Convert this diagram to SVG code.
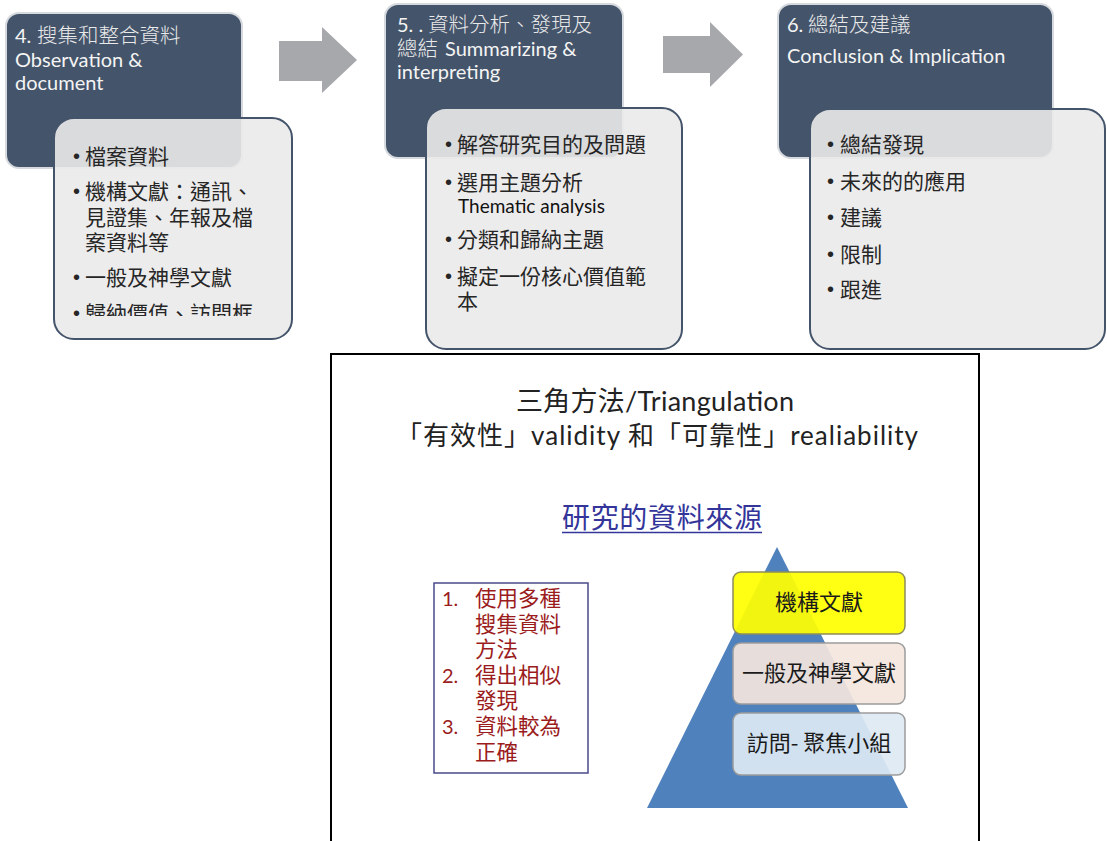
<svg xmlns="http://www.w3.org/2000/svg" width="1107" height="841" viewBox="0 0 1107 841">
<defs>
<style>
.dark{fill:#44546a;stroke:#d6dade;stroke-width:2}
.light{fill:#ebeaea;fill-opacity:0.9;stroke:#44546a;stroke-width:2}
.arrow{fill:#a6a8ac}
.ttl{font-family:Lato,"Noto Sans CJK TC",sans-serif;font-size:20px;fill:#f4f4f4}
.tcjk{font-family:"Noto Sans CJK TC",sans-serif;font-size:20.5px;font-weight:300;fill:#eaeaea}
.bul{font-family:"Noto Sans CJK TC",sans-serif;font-size:21px;fill:#262626}
.dot{font-family:"Liberation Sans",sans-serif;font-size:20px;fill:#262626}
.lat{font-family:Lato,sans-serif;font-size:19px;fill:#111}
.slide{font-family:Lato,"Noto Sans CJK TC",sans-serif;fill:#222}
.red{font-family:"Noto Sans CJK TC",sans-serif;font-size:21.5px;fill:#9b1c1c}
.redn{font-family:Lato,sans-serif;font-size:20px;fill:#9b1c1c}
.pt{font-family:"Noto Sans CJK TC",sans-serif;font-size:22px;fill:#1a1a1a;text-anchor:middle}
</style>
<clipPath id="clip1"><rect x="40" y="100" width="260" height="216"/></clipPath>
</defs>

<g id="connectors">
<polygon class="arrow" points="279,41 322,41 322,27 357,60 322,93 322,81 279,81"/>
<polygon class="arrow" points="663,36 710,36 710,22 743,54.5 710,87 710,73 663,73"/>
</g>

<g id="step4">
<rect class="dark" x="6" y="13" width="236" height="155" rx="13"/>
<text class="ttl" x="15" y="43">4.<tspan class="tcjk" x="37">搜集和整合資料</tspan></text>
<text class="ttl" x="15" y="67">Observation &amp;</text>
<text class="ttl" x="15" y="90">document</text>
<rect class="light" x="54" y="118" width="238" height="221" rx="20"/>
<text class="dot" x="73" y="163">•</text>
<text class="bul" x="85" y="164">檔案資料</text>
<text class="dot" x="73" y="198">•</text>
<text class="bul" x="85" y="199">機構文獻：通訊、</text>
<text class="bul" x="85" y="225">見證集、年報及檔</text>
<text class="bul" x="85" y="250">案資料等</text>
<text class="dot" x="73" y="284">•</text>
<text class="bul" x="85" y="285">一般及神學文獻</text>
<g clip-path="url(#clip1)">
<text class="dot" x="73" y="320">•</text>
<text class="bul" x="85" y="321">歸納價值、訪問框</text>
</g>
</g>

<g id="step5">
<rect class="dark" x="385" y="4" width="238" height="154" rx="13"/>
<text class="ttl" x="397" y="32">5. .<tspan class="tcjk" x="428">資料分析、發現及</tspan></text>
<text class="ttl" x="397" y="56"><tspan class="tcjk">總結</tspan><tspan x="445">Summarizing &amp;</tspan></text>
<text class="ttl" x="397" y="79">interpreting</text>
<rect class="light" x="426" y="108" width="256" height="241" rx="20"/>
<text class="dot" x="445" y="151">•</text>
<text class="bul" x="457" y="152">解答研究目的及問題</text>
<text class="dot" x="445" y="189">•</text>
<text class="bul" x="457" y="190">選用主題分析</text>
<text class="lat" x="458" y="213">Thematic analysis</text>
<text class="dot" x="445" y="246">•</text>
<text class="bul" x="457" y="247">分類和歸納主題</text>
<text class="dot" x="445" y="283">•</text>
<text class="bul" x="457" y="284">擬定一份核心價值範</text>
<text class="bul" x="457" y="309">本</text>
</g>

<g id="step6">
<rect class="dark" x="778" y="4" width="275" height="154" rx="13"/>
<text class="ttl" x="787" y="32">6.<tspan class="tcjk" x="808">總結及建議</tspan></text>
<text class="ttl" x="787" y="63">Conclusion &amp; Implication</text>
<rect class="light" x="810" y="109" width="295" height="240" rx="20"/>
<text class="dot" x="827" y="151">•</text>
<text class="bul" x="840" y="152">總結發現</text>
<text class="dot" x="827" y="188">•</text>
<text class="bul" x="840" y="189">未來的的應用</text>
<text class="dot" x="827" y="224">•</text>
<text class="bul" x="840" y="225">建議</text>
<text class="dot" x="827" y="261">•</text>
<text class="bul" x="840" y="262">限制</text>
<text class="dot" x="827" y="296">•</text>
<text class="bul" x="840" y="297">跟進</text>
</g>

<g id="slide">
<rect x="331" y="354" width="648" height="500" fill="#ffffff" stroke="#000" stroke-width="2"/>
<text class="slide" x="516" y="411" font-size="27" textLength="278" lengthAdjust="spacing">三角方法/Triangulation</text>
<text class="slide" x="396" y="445" font-size="26" fill="#333" textLength="522" lengthAdjust="spacing">「有效性」validity 和「可靠性」realiability</text>
<text x="562" y="528" font-family="Noto Sans CJK TC,sans-serif" font-size="28" fill="#33359a" textLength="200" lengthAdjust="spacing">研究的資料來源</text>
<line x1="562" y1="532.5" x2="762" y2="532.5" stroke="#33359a" stroke-width="1.5"/>
</g>

<g id="methods">
<rect x="434" y="583" width="154" height="190" fill="#fff" stroke="#4a4a8a" stroke-width="1.5"/>
<text class="redn" x="442" y="606">1.</text>
<text class="red" x="475" y="606">使用多種</text>
<text class="red" x="475" y="632">搜集資料</text>
<text class="red" x="475" y="657">方法</text>
<text class="redn" x="442" y="683">2.</text>
<text class="red" x="475" y="683">得出相似</text>
<text class="red" x="475" y="708">發現</text>
<text class="redn" x="442" y="734">3.</text>
<text class="red" x="475" y="734">資料較為</text>
<text class="red" x="475" y="760">正確</text>
</g>

<g id="pyramid">
<polygon points="777,547 908,808 647,808" fill="#4f81bd"/>
</g>
<g id="src1">
<rect x="733" y="572" width="172" height="62" rx="8" fill="#ffff00" fill-opacity="0.92" stroke="#8c8c5c" stroke-width="1.5"/>
<text class="pt" x="819" y="610">機構文獻</text>
</g>
<g id="src2">
<rect x="733" y="643" width="172" height="61" rx="8" fill="#f4e6de" fill-opacity="0.92" stroke="#9c9c9c" stroke-width="1.5"/>
<text class="pt" x="819" y="681">一般及神學文獻</text>
</g>
<g id="src3">
<rect x="733" y="713" width="172" height="62" rx="8" fill="#dde9f3" fill-opacity="0.92" stroke="#9c9c9c" stroke-width="1.5"/>
<text class="pt" x="819" y="751">訪問- 聚焦小組</text>
</g>
</svg>
